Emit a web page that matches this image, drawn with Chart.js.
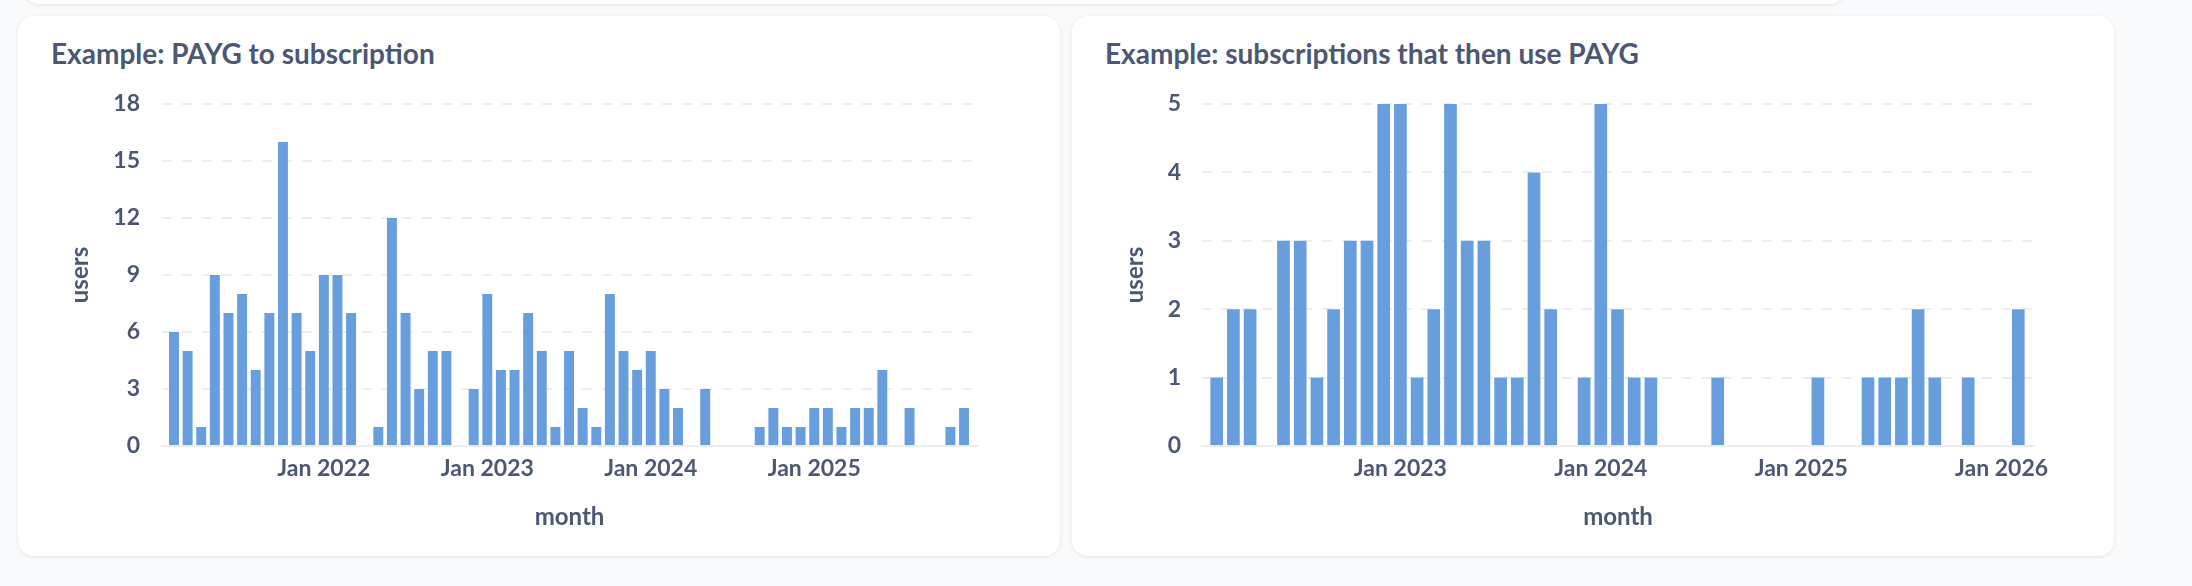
<!DOCTYPE html>
<html>
<head>
<meta charset="utf-8">
<script src="https://cdn.jsdelivr.net/npm/chart.js@4.4.1/dist/chart.umd.min.js"></script>
<style>
  html, body {
    margin: 0;
    padding: 0;
    width: 2192px;
    height: 586px;
    overflow: hidden;
    background: #f9fafb;
    font-family: Lato, "Open Sans", sans-serif;
  }
  .card {
    position: absolute;
    background: #fff;
    border-radius: 16px;
    box-shadow: 0 1px 4px rgba(0, 0, 0, 0.09);
  }
  .top-strip { left: 23px; top: -30px; width: 1822px; height: 34px; }
  #cardLeft { left: 18px; top: 16px; width: 1042px; height: 540px; }
  #cardRight { left: 1072px; top: 16px; width: 1042px; height: 540px; }
  .card-title {
    position: absolute;
    left: 33px;
    top: 23px;
    font-size: 28px;
    line-height: 28px;
    font-weight: 700;
    color: #4c5773;
    white-space: nowrap;
  }
  .card canvas { position: absolute; left: 0; top: 52px; }
</style>
</head>
<body>
<div class="card top-strip"></div>
<div class="card" id="cardLeft">
  <div class="card-title">Example: PAYG to subscription</div>
  <canvas id="chartLeft" width="1042" height="470"></canvas>
</div>
<div class="card" id="cardRight">
  <div class="card-title">Example: subscriptions that then use PAYG</div>
  <canvas id="chartRight" width="1042" height="470"></canvas>
</div>

<script>
// PAYG -> subscription, monthly users
const leftMonths = [
  "2021-02", "2021-03", "2021-04", "2021-05", "2021-06", "2021-07", "2021-08", "2021-09", "2021-10", "2021-11", "2021-12",
  "2022-01", "2022-02", "2022-03", "2022-04", "2022-05", "2022-06", "2022-07", "2022-08", "2022-09", "2022-10", "2022-11", "2022-12",
  "2023-01", "2023-02", "2023-03", "2023-04", "2023-05", "2023-06", "2023-07", "2023-08", "2023-09", "2023-10", "2023-11", "2023-12",
  "2024-01", "2024-02", "2024-03", "2024-04", "2024-05", "2024-06", "2024-07", "2024-08", "2024-09", "2024-10", "2024-11", "2024-12",
  "2025-01", "2025-02", "2025-03", "2025-04", "2025-05", "2025-06", "2025-07", "2025-08", "2025-09", "2025-10", "2025-11", "2025-12",
];
const leftUsers = [
  6, 5, 1, 9, 7, 8, 4, 7, 16, 7, 5,
  9, 9, 7, 0, 1, 12, 7, 3, 5, 5, 0, 3,
  8, 4, 4, 7, 5, 1, 5, 2, 1, 8, 5, 4,
  5, 3, 2, 0, 3, 0, 0, 0, 1, 2, 1, 1,
  2, 2, 1, 2, 2, 4, 0, 2, 0, 0, 1, 2,
];
const leftTickMonths = ["2022-01", "2023-01", "2024-01", "2025-01"];
const leftTickLabels = ["Jan 2022", "Jan 2023", "Jan 2024", "Jan 2025"];

// subscriptions that then use PAYG, monthly users
const rightMonths = [
  "2022-02", "2022-03", "2022-04", "2022-05", "2022-06", "2022-07", "2022-08", "2022-09", "2022-10", "2022-11", "2022-12",
  "2023-01", "2023-02", "2023-03", "2023-04", "2023-05", "2023-06", "2023-07", "2023-08", "2023-09", "2023-10", "2023-11", "2023-12",
  "2024-01", "2024-02", "2024-03", "2024-04", "2024-05", "2024-06", "2024-07", "2024-08", "2024-09", "2024-10", "2024-11", "2024-12",
  "2025-01", "2025-02", "2025-03", "2025-04", "2025-05", "2025-06", "2025-07", "2025-08", "2025-09", "2025-10", "2025-11", "2025-12",
  "2026-01", "2026-02",
];
const rightUsers = [
  1, 2, 2, 0, 3, 3, 1, 2, 3, 3, 5,
  5, 1, 2, 5, 3, 3, 1, 1, 4, 2, 0, 1,
  5, 2, 1, 1, 0, 0, 0, 1, 0, 0, 0, 0,
  0, 1, 0, 0, 1, 1, 1, 2, 1, 0, 1, 0,
  0, 2,
];
const rightTickMonths = ["2023-01", "2024-01", "2025-01", "2026-01"];
const rightTickLabels = ["Jan 2023", "Jan 2024", "Jan 2025", "Jan 2026"];

const TEXT = "#4c5773";
const BAR = "#689ede";
const GRID = "#eeeeee";
const TICK_FONT = { family: "Lato", size: 23, weight: "bold" };
const TITLE_FONT = { family: "Lato", size: 24, weight: "bold" };

function makeChart(canvasId, months, users, tickMonths, tickLabels, cfg) {
  const tickIdx = tickMonths.map((m) => months.indexOf(m));
  const labelAt = {};
  tickIdx.forEach((idx, i) => (labelAt[idx] = tickLabels[i]));

  return new Chart(document.getElementById(canvasId), {
    type: "bar",
    data: {
      datasets: [
        {
          label: "users",
          data: users.map((v, i) => ({ x: i, y: v })),
          backgroundColor: BAR,
          borderWidth: 0,
          barPercentage: cfg.barPct,
          categoryPercentage: 1,
        },
      ],
    },
    options: {
      responsive: false,
      devicePixelRatio: 1,
      animation: false,
      layout: { padding: { top: 36, right: cfg.padRight, bottom: 6.6, left: 0 } },
      plugins: { legend: { display: false }, tooltip: { enabled: false } },
      scales: {
        x: {
          type: "linear",
          min: cfg.xMin,
          max: cfg.xMax,
          offset: false,
          grid: { display: false, drawTicks: false },
          border: { display: true, color: "#ebecee", width: 2 },
          afterBuildTicks: (scale) => {
            scale.ticks = tickIdx.map((v) => ({ value: v }));
          },
          afterFit: (scale) => {
            scale.height = 85.4;
          },
          ticks: {
            autoSkip: false,
            maxRotation: 0,
            padding: 9.2,
            color: TEXT,
            font: TICK_FONT,
            callback: (value) => labelAt[value] || "",
          },
          title: {
            display: true,
            text: "month",
            color: TEXT,
            font: TITLE_FONT,
            padding: { top: 0, bottom: 0 },
          },
        },
        y: {
          min: 0,
          max: cfg.yMax,
          grid: {
            drawTicks: false,
            lineWidth: 2,
            color: (ctx) => (ctx.tick && ctx.tick.value === 0 ? "rgba(0,0,0,0)" : GRID),
          },
          border: { display: false, dash: [10, 10] },
          afterFit: (scale) => {
            scale.width = cfg.yWidth;
          },
          ticks: {
            stepSize: cfg.yStep,
            padding: cfg.yTickPad,
            color: TEXT,
            font: TICK_FONT,
          },
          title: {
            display: true,
            text: "users",
            color: TEXT,
            font: TITLE_FONT,
            padding: { top: cfg.yTitlePad, bottom: 0 },
          },
        },
      },
    },
  });
}

function draw() {
  makeChart("chartLeft", leftMonths, leftUsers, leftTickMonths, leftTickLabels, {
    yMax: 18, yStep: 3, yWidth: 144, yTickPad: 22, yTitlePad: 47.6,
    xMin: -0.88, xMax: 58.95, padRight: 83, barPct: 0.73,
  });
  makeChart("chartRight", rightMonths, rightUsers, rightTickMonths, rightTickLabels, {
    yMax: 5, yStep: 1, yWidth: 130, yTickPad: 21, yTitlePad: 48.6,
    xMin: -0.88, xMax: 48.94, padRight: 80, barPct: 0.76,
  });
}

if (document.fonts && document.fonts.load) {
  Promise.all([
    document.fonts.load("bold 23px Lato"),
    document.fonts.load("bold 28px Lato"),
  ]).then(draw, draw);
} else {
  draw();
}
</script>
</body>
</html>
